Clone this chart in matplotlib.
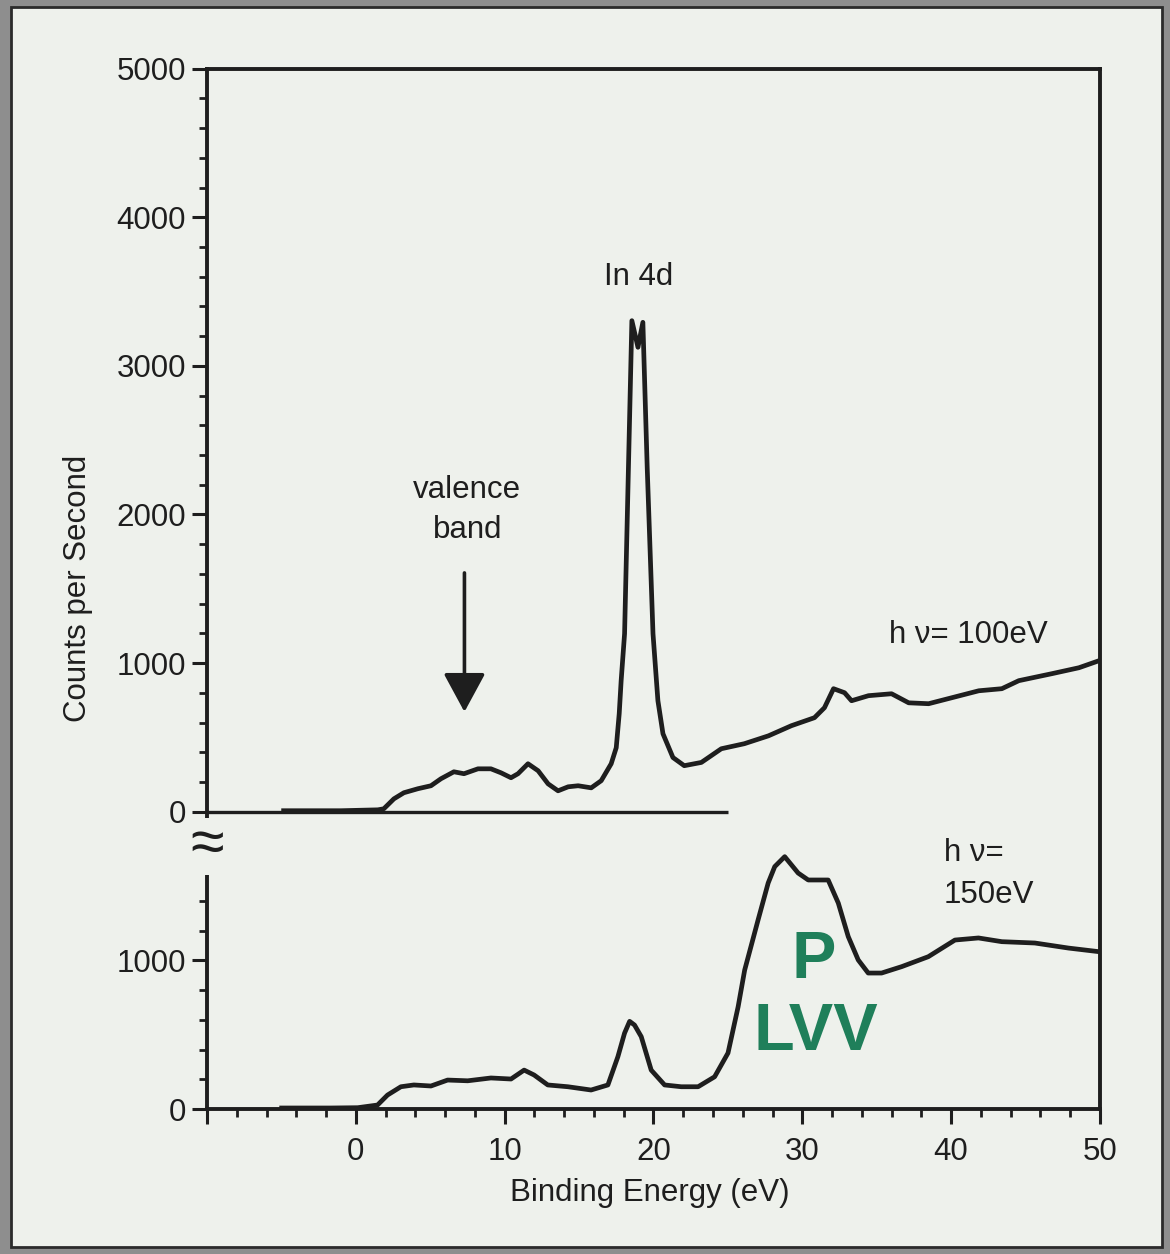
import matplotlib
matplotlib.use("Agg")
import matplotlib.pyplot as plt
from matplotlib.patches import Rectangle
from matplotlib.ticker import FixedLocator

plt.rcParams['font.family'] = ['Liberation Sans', 'DejaVu Sans']

# hv = 100 eV spectrum (binding energy in eV, counts per second)
be_100 = [-4.85, -1.0, 1.48, 1.88, 2.56, 3.23, 4.17, 5.05, 5.72, 6.59, 7.27, 8.21,
          9.08, 9.76, 10.43, 10.90, 11.57, 12.25, 12.92, 13.59, 14.27, 14.94, 15.82,
          16.49, 17.16, 17.50, 17.70, 17.83, 18.06, 18.32, 18.55, 18.96, 19.29, 19.58,
          19.97, 20.30, 20.64, 21.31, 22.07, 23.22, 24.56, 26.11, 27.73, 29.27, 30.82,
          31.49, 32.10, 32.84, 33.31, 34.45, 36.00, 37.15, 38.49, 40.04, 41.86, 43.41,
          44.55, 46.77, 48.59, 49.93]
cps_100 = [7, 7, 13, 20, 87, 128, 155, 175, 222, 269, 256, 289,
           289, 262, 229, 256, 323, 276, 188, 141, 168, 175, 161,
           209, 323, 431, 660, 882, 1198, 2317, 3304, 3125, 3293, 2317,
           1198, 747, 525, 365, 310, 332, 424, 458, 511, 579, 633,
           700, 828, 801, 747, 781, 794, 733, 727, 767, 814, 828,
           882, 929, 969, 1016]

# hv = 150 eV spectrum
be_150 = [-4.98, -1.68, 0.13, 1.46, 2.13, 3.03, 3.90, 5.05, 6.17, 7.52, 9.08, 10.43,
          11.31, 11.98, 12.90, 14.25, 15.81, 16.94, 17.61, 18.06, 18.40, 18.73, 19.18,
          19.85, 20.75, 21.87, 23.00, 24.11, 25.01, 25.69, 26.13, 27.03, 27.71, 28.15,
          28.82, 29.72, 30.40, 31.74, 32.42, 33.09, 33.76, 34.43, 35.33, 36.68, 38.47,
          40.26, 41.84, 43.41, 45.63, 47.89, 49.91]
cps_150 = [7, 7, 9, 27, 94, 150, 162, 155, 195, 190, 209, 202,
           262, 229, 162, 150, 128, 162, 352, 511, 590, 565, 487,
           262, 162, 150, 150, 217, 377, 688, 935, 1272, 1521, 1631,
           1698, 1588, 1541, 1541, 1386, 1160, 1003, 915, 915, 958, 1025,
           1137, 1151, 1126, 1117, 1083, 1059]

offset_150 = 2000          # lower trace is drawn 2000 cps below the upper one
baseline_end = 25          # zero line of the upper trace stops here

yticks = [-2000, -1000, 0, 1000, 2000, 3000, 4000, 5000]
ytick_labels = ['0', '1000', '0', '1000', '2000', '3000', '4000', '5000']
yminor = [v for v in range(-2000, 5001, 200) if v % 1000 != 0 and v != -200]
xticks = [-10, 0, 10, 20, 30, 40, 50]
xtick_labels = ['', '0', '10', '20', '30', '40', '50']
xminor = [v for v in range(-10, 51, 2) if v % 10 != 0]

bg = '#eef1ec'
ink = '#1e1e1e'
green = '#1f7f5a'

fig = plt.figure(figsize=(11.7, 12.54), dpi=100, facecolor='#8e8e8e')
fig.patches.append(Rectangle((0.0094, 0.0056), 0.9836, 0.9888, transform=fig.transFigure,
                             facecolor=bg, edgecolor='#2b2b2b', lw=2, zorder=-10))

ax = fig.add_axes([0.1769, 0.1156, 0.7632, 0.8297])
ax.set_zorder(1)
ax.set_facecolor(bg)

ax.plot(be_100, cps_100, color=ink, lw=3.4, solid_joinstyle='round')
ax.plot(be_150, [c - offset_150 for c in cps_150], color=ink, lw=3.4, solid_joinstyle='round')
ax.hlines(0, -10, baseline_end, color=ink, lw=2.4)

ax.set_xlim(-10, 50)
ax.set_ylim(-2000, 5000)

ax.xaxis.set_major_locator(FixedLocator(xticks))
ax.set_xticklabels(xtick_labels)
ax.xaxis.set_minor_locator(FixedLocator(xminor))
ax.yaxis.set_major_locator(FixedLocator(yticks))
ax.set_yticklabels(ytick_labels)
ax.yaxis.set_minor_locator(FixedLocator(yminor))

ax.tick_params(which='major', length=11, width=2.2, direction='out', color=ink,
               labelsize=22.5, labelcolor=ink)
ax.tick_params(axis='y', which='major', pad=4)
ax.tick_params(axis='x', which='major', pad=9)
ax.tick_params(which='minor', length=5.5, width=2, direction='out', color=ink)
for s in ax.spines.values():
    s.set_linewidth(2.8)
    s.set_color(ink)

# axis break on the left spine
ax.text(-10, -235, '\u2248', fontsize=44, ha='center', va='center', color=ink,
        clip_on=False, bbox=dict(boxstyle='square,pad=0.0', fc=bg, ec='none'))

fig.text(78 / 1170, 1 - 588 / 1254, 'Counts per Second', rotation=90, ha='center',
         va='center', fontsize=22.5, color=ink)
fig.text(650 / 1170, 1 - 1193 / 1254, 'Binding Energy (eV)', ha='center', va='center',
         fontsize=22.5, color=ink)

ax.text(19, 3600, 'In 4d', ha='center', va='center', fontsize=22.5, color=ink)
ax.text(7.5, 2165, 'valence', ha='center', va='center', fontsize=22.5, color=ink)
ax.text(7.5, 1896, 'band', ha='center', va='center', fontsize=22.5, color=ink)
ax.annotate('', xy=(7.3, 672), xytext=(7.3, 1607),
            arrowprops=dict(arrowstyle='-|>,head_length=1.2,head_width=0.65', lw=2.6,
                            color=ink, shrinkA=0, shrinkB=0, mutation_scale=20))

ax.text(35.8, 1190, 'h \u03bd= 100eV', ha='left', va='center', fontsize=22.5, color=ink)
ax.text(39.5, -277, 'h \u03bd=', ha='left', va='center', fontsize=22.5, color=ink)
ax.text(39.5, -560, '150eV', ha='left', va='center', fontsize=22.5, color=ink)

ax.text(30.75, -1004, 'P', ha='center', va='center', fontsize=48, fontweight='bold', color=green)
ax.text(30.9, -1489, 'LVV', ha='center', va='center', fontsize=48, fontweight='bold', color=green)

fig.savefig('out.png', dpi=100, facecolor=fig.get_facecolor())
